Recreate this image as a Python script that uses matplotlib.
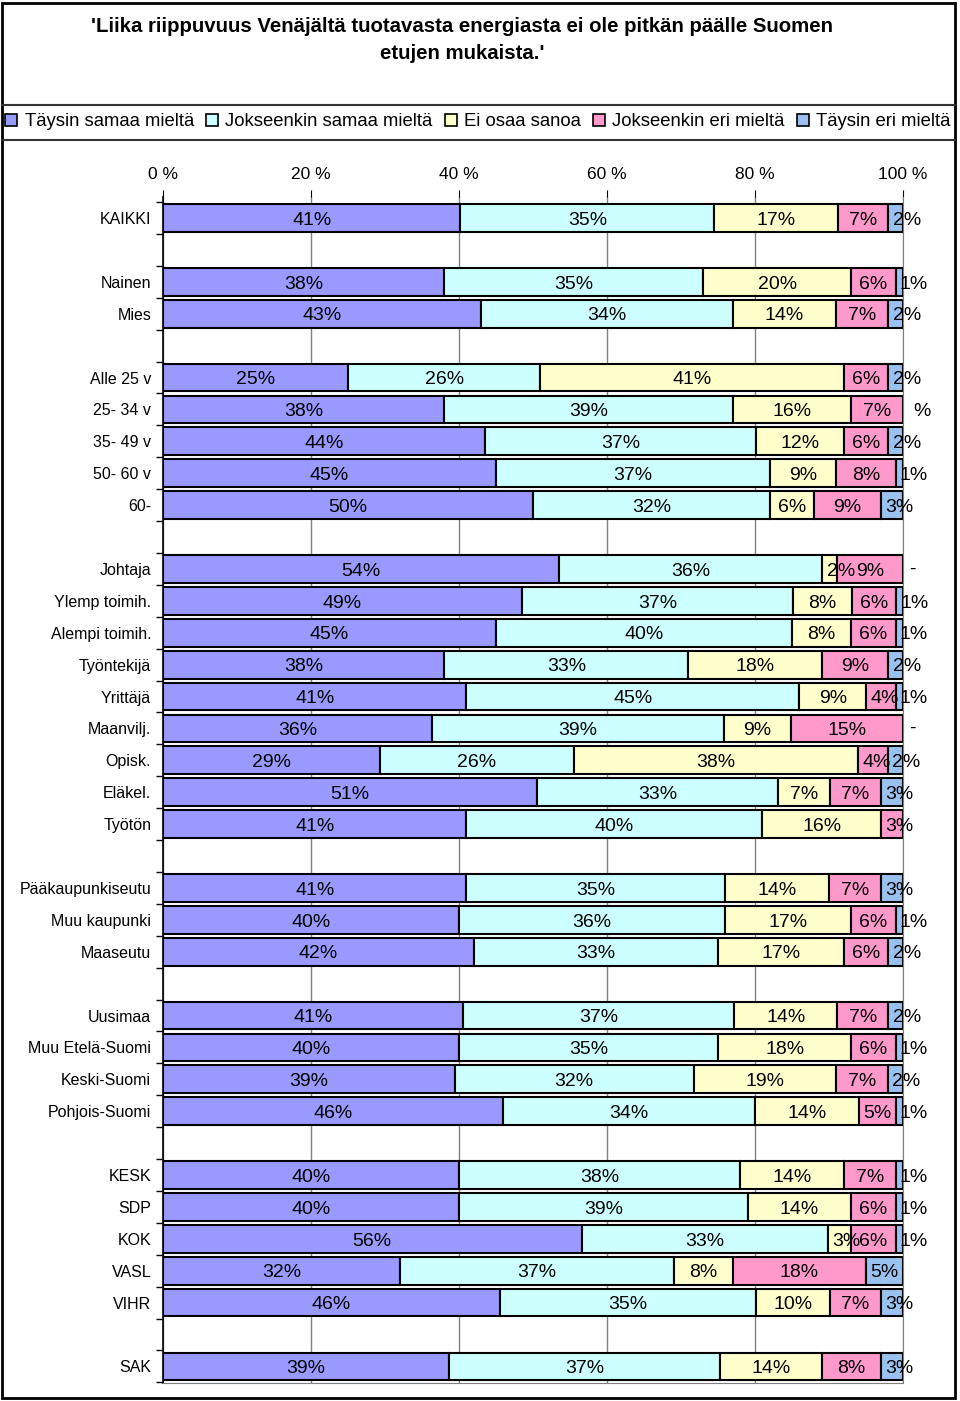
import matplotlib
matplotlib.use("Agg")
import matplotlib.pyplot as plt
from matplotlib.patches import Rectangle, Patch
from matplotlib.lines import Line2D

plt.rcParams['font.family'] = ['Liberation Sans', 'DejaVu Sans']

title = "'Liika riippuvuus Venäjältä tuotavasta energiasta ei ole pitkän päälle Suomen\netujen mukaista.'"
series = ["Täysin samaa mieltä", "Jokseenkin samaa mieltä", "Ei osaa sanoa",
          "Jokseenkin eri mieltä", "Täysin eri mieltä"]
colors = ["#9999FF", "#CCFFFF", "#FFFFCC", "#FF99CC", "#99C2F0"]

# ryhmät (tyhjä rivi ryhmien väliin)
groups = [
    ["KAIKKI"],
    ["Nainen", "Mies"],
    ["Alle 25 v", "25- 34 v", "35- 49 v", "50- 60 v", "60-"],
    ["Johtaja", "Ylemp toimih.", "Alempi toimih.", "Työntekijä", "Yrittäjä",
     "Maanvilj.", "Opisk.", "Eläkel.", "Työtön"],
    ["Pääkaupunkiseutu", "Muu kaupunki", "Maaseutu"],
    ["Uusimaa", "Muu Etelä-Suomi", "Keski-Suomi", "Pohjois-Suomi"],
    ["KESK", "SDP", "KOK", "VASL", "VIHR"],
    ["SAK"],
]

# prosentit: täysin samaa, jokseenkin samaa, eos, jokseenkin eri, täysin eri
# None = puuttuu ("-")
values = {
    "KAIKKI": [41, 35, 17, 7, 2],
    "Nainen": [38, 35, 20, 6, 1],
    "Mies": [43, 34, 14, 7, 2],
    "Alle 25 v": [25, 26, 41, 6, 2],
    "25- 34 v": [38, 39, 16, 7, 0],
    "35- 49 v": [44, 37, 12, 6, 2],
    "50- 60 v": [45, 37, 9, 8, 1],
    "60-": [50, 32, 6, 9, 3],
    "Johtaja": [54, 36, 2, 9, None],
    "Ylemp toimih.": [49, 37, 8, 6, 1],
    "Alempi toimih.": [45, 40, 8, 6, 1],
    "Työntekijä": [38, 33, 18, 9, 2],
    "Yrittäjä": [41, 45, 9, 4, 1],
    "Maanvilj.": [36, 39, 9, 15, None],
    "Opisk.": [29, 26, 38, 4, 2],
    "Eläkel.": [51, 33, 7, 7, 3],
    "Työtön": [41, 40, 16, 3, 0],
    "Pääkaupunkiseutu": [41, 35, 14, 7, 3],
    "Muu kaupunki": [40, 36, 17, 6, 1],
    "Maaseutu": [42, 33, 17, 6, 2],
    "Uusimaa": [41, 37, 14, 7, 2],
    "Muu Etelä-Suomi": [40, 35, 18, 6, 1],
    "Keski-Suomi": [39, 32, 19, 7, 2],
    "Pohjois-Suomi": [46, 34, 14, 5, 1],
    "KESK": [40, 38, 14, 7, 1],
    "SDP": [40, 39, 14, 6, 1],
    "KOK": [56, 33, 3, 6, 1],
    "VASL": [32, 37, 8, 18, 5],
    "VIHR": [46, 35, 10, 7, 3],
    "SAK": [39, 37, 14, 8, 3],
}
# poikkeava teksti kuvassa
label_fix = {("25- 34 v", 4): "%"}

# rivien paikat
rows = []
pos = []
k = 0
for g in groups:
    for name in g:
        rows.append(name)
        pos.append(k)
        k += 1
    k += 1
last = pos[-1]

fig = plt.figure(figsize=(9.6, 14.01), dpi=100)
W, H = 960, 1401
ax = fig.add_axes([163 / W, 1 - 1383 / H, 740 / W, (1383 - 197) / H])

for name, y in zip(rows, pos):
    vals = values[name]
    total = sum(v for v in vals if v)
    left = 0
    for i, v in enumerate(vals):
        if v is None:
            ax.text(101.2, y, "-", ha='center', va='center', fontsize=14, clip_on=False)
            continue
        if v == 0 and (name, i) not in label_fix:
            continue
        w = v / total * 100
        if w > 0:
            ax.barh(y, w, left=left, height=0.87, color=colors[i],
                    edgecolor='black', linewidth=1.5, zorder=3)
        txt = label_fix.get((name, i), f"{v}%")
        x = max(left + w / 2, left + 2.5)
        ax.text(x, y + 0.07, txt, ha='center', va='center', fontsize=14,
                zorder=5, clip_on=False)
        left += w

ax.set_xlim(0, 100)
ax.set_ylim(last + 0.52, -0.66)
ax.set_xticks([0, 20, 40, 60, 80, 100])
ax.set_xticklabels([f"{t} %" for t in [0, 20, 40, 60, 80, 100]], fontsize=12.5)
ax.xaxis.tick_top()
ax.tick_params(axis='x', length=5, pad=6, color='black')
ax.set_yticks(pos)
ax.set_yticklabels(rows, fontsize=11.5)
ax.tick_params(axis='y', length=0, pad=8.5)
ax.set_yticks([b - 0.5 for b in range(last + 2)], minor=True)
ax.tick_params(axis='y', which='minor', length=5, width=1, color='black')
ax.grid(axis='x', color='#808080', linewidth=1, zorder=0)
ax.set_axisbelow(True)
ax.spines['top'].set_visible(False)
ax.spines['right'].set_color('#808080')
ax.spines['bottom'].set_color('#808080')
ax.spines['left'].set_linewidth(1.2)

fig.text(462 / W, 1 - 40 / H, title, ha='center', va='center', fontsize=14.7,
         fontweight='bold', linespacing=1.5)

handles = [Patch(facecolor=c, edgecolor='black', linewidth=1.2) for c in colors]
fig.legend(handles, series, loc='center', bbox_to_anchor=(478 / W, 1 - 122 / H),
           ncol=5, frameon=False, fontsize=13.3, handlelength=0.65, handleheight=0.65,
           handletextpad=0.4, columnspacing=0.65, borderaxespad=0, borderpad=0)

# kehykset
fig.add_artist(Rectangle((2 / W, 3 / H), 953 / W, 1395 / H, transform=fig.transFigure,
                         fill=False, edgecolor='black', linewidth=2))
for yy in (105, 140):
    fig.add_artist(Line2D([2 / W, 955 / W], [1 - yy / H, 1 - yy / H],
                          transform=fig.transFigure, color='#333333', linewidth=1.5))

fig.savefig("out.png", dpi=100)
